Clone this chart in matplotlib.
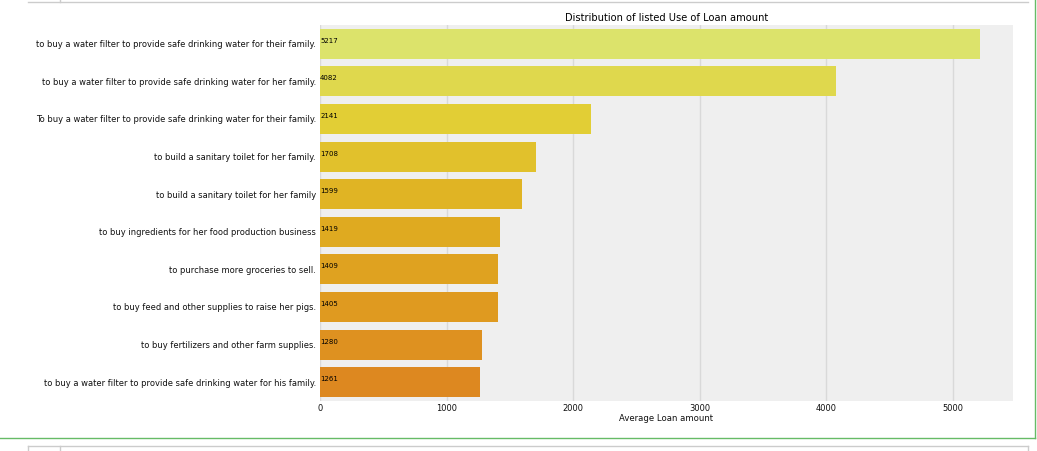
"""Average loan amount by listed use of loan."""
import matplotlib

matplotlib.use("Agg")
import matplotlib.pyplot as plt
from matplotlib.lines import Line2D
import seaborn as sns

uses = [
    "to buy a water filter to provide safe drinking water for their family.",
    "to buy a water filter to provide safe drinking water for her family.",
    "To buy a water filter to provide safe drinking water for their family.",
    "to build a sanitary toilet for her family.",
    "to build a sanitary toilet for her family",
    "to buy ingredients for her food production business",
    "to purchase more groceries to sell.",
    "to buy feed and other supplies to raise her pigs.",
    "to buy fertilizers and other farm supplies.",
    "to buy a water filter to provide safe drinking water for his family.",
]
amounts = [5217, 4082, 2141, 1708, 1599, 1419, 1409, 1405, 1280, 1261]


def main():
    fig = plt.figure(figsize=(10.37, 4.51), dpi=100)
    ax = fig.add_axes([0.3086, 0.1109, 0.6683, 0.8337])

    # seaborn style bar colours (Wistia, desaturated)
    colors = [sns.desaturate(c, 0.75) for c in sns.color_palette("Wistia", len(uses))]

    pos = list(range(len(uses)))
    ax.barh(pos, amounts, height=0.8, color=colors, zorder=2)
    ax.set_ylim(len(uses) - 0.5, -0.5)
    ax.set_xlim(0, max(amounts) * 1.05)
    ax.set_yticks(pos)
    ax.set_yticklabels(uses, fontsize=6.0, color="#111111")
    ax.tick_params(axis="x", labelsize=6.0, labelcolor="#111111", length=0, pad=2)
    ax.tick_params(axis="y", length=0, pad=3)

    for i, v in enumerate(amounts):
        ax.text(0, i, str(v), fontsize=5, va="bottom", ha="left", zorder=3)

    ax.set_facecolor("#efefef")
    ax.grid(axis="x", color="#d9d9d9", linewidth=1, zorder=0)
    ax.set_axisbelow(True)
    for s in ax.spines.values():
        s.set_visible(False)

    ax.set_title("Distribution of listed Use of Loan amount", fontsize=7.1, pad=3)
    ax.set_xlabel("Average Loan amount", fontsize=6.1, labelpad=1, color="#111111")

    # notebook cell frame around the output
    W, H = 1037.0, 451.0
    gray = "#cccccc"
    green = "#66bb66"
    fig.add_artist(Line2D([28 / W, 1028 / W], [1 - 2 / H, 1 - 2 / H], color=gray, lw=1))
    fig.add_artist(Line2D([60 / W, 60 / W], [1 - 2 / H, 1.0], color=gray, lw=1))
    fig.add_artist(Line2D([1035 / W, 1035 / W], [1.0, 1 - 438 / H], color=green, lw=1))
    fig.add_artist(Line2D([0, 1035 / W], [1 - 438 / H, 1 - 438 / H], color=green, lw=1))
    fig.add_artist(Line2D([28 / W, 1028 / W], [1 - 446 / H, 1 - 446 / H], color=gray, lw=1))
    fig.add_artist(Line2D([28 / W, 28 / W], [1 - 446 / H, 0], color=gray, lw=1))
    fig.add_artist(Line2D([60 / W, 60 / W], [1 - 446 / H, 0], color=gray, lw=1))
    fig.add_artist(Line2D([1028 / W, 1028 / W], [1 - 446 / H, 0], color=gray, lw=1))

    fig.savefig("out.png", dpi=100)


if __name__ == "__main__":
    main()
